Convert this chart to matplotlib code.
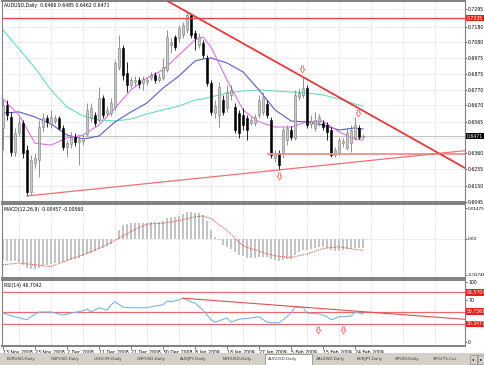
import numpy as np
import matplotlib.pyplot as plt
import matplotlib.transforms as mtransforms
from matplotlib.patches import Rectangle
from matplotlib.path import Path

plt.rcParams['font.family'] = ['DejaVu Sans']

# ---------------- data ----------------
opens = [
    .6524, .6673, .6595, .6368, .6492, .6556, .6381, .6109, .6297, .6316,
    .6530, .6589, .6550, .6569, .6589, .6524, .6401, .6420, .6466, .6433,
    .6440, .6485, .6589, .6608, .6576, .6718, .6621, .6621, .6660, .6919,
    .7042, .6880, .6802, .6822, .6835, .6815, .6822, .6848, .6867, .6835,
    .6848, .6900, .7062, .7114, .7107, .7126, .7159, .7256, .7139, .7062,
    .7075, .6978, .6815, .6621, .6608, .6705, .6653, .6738, .6660, .6621,
    .6608, .6589, .6556, .6556, .6608, .6628, .6679, .6576, .6329, .6362,
    .6362, .6446, .6511, .6459, .6725, .6738, .6783, .6550, .6524, .6563,
    .6556, .6543, .6511, .6349, .6362, .6427, .6394, .6427, .6459, .6524,
    .6466]
highs = [
    .6705, .6705, .6628, .6524, .6595, .6576, .6414, .6349, .6362, .6576,
    .6621, .6608, .6641, .6608, .6600, .6543, .6446, .6498, .6492, .6472,
    .6479, .6686, .6686, .6628, .6790, .6738, .6666, .6718, .6965, .7126,
    .7062, .6952, .6854, .6861, .6854, .6861, .6854, .6887, .6887, .6880,
    .6978, .7159, .7107, .7126, .7191, .7211, .7276, .7269, .7159, .7139,
    .7094, .6997, .6835, .6705, .6822, .6738, .6802, .6802, .6686, .6641,
    .6653, .6608, .6595, .6615, .6738, .6757, .6705, .6595, .6381, .6381,
    .6530, .6543, .6537, .6770, .6783, .6854, .6802, .6608, .6628, .6615,
    .6576, .6563, .6530, .6401, .6466, .6459, .6524, .6543, .6595, .6543,
    .6485]
lows = [
    .6381, .6576, .6342, .6342, .6472, .6329, .6083, .6096, .6265, .6205,
    .6498, .6530, .6524, .6550, .6511, .6381, .6336, .6394, .6407, .6284,
    .6414, .6472, .6563, .6537, .6563, .6589, .6602, .6602, .6641, .6900,
    .6835, .6757, .6783, .6796, .6783, .6770, .6802, .6835, .6815, .6822,
    .6835, .6887, .7010, .7029, .7081, .7107, .7139, .7107, .7029, .7042,
    .6978, .6796, .6608, .6589, .6530, .6608, .6628, .6705, .6492, .6459,
    .6511, .6446, .6543, .6537, .6589, .6608, .6589, .6329, .6303, .6252,
    .6329, .6414, .6446, .6446, .6705, .6718, .6524, .6524, .6505, .6537,
    .6511, .6446, .6336, .6336, .6349, .6401, .6381, .6368, .6446, .6453,
    .6462]
closes = [
    .6673, .6608, .6368, .6492, .6556, .6362, .6109, .6316, .6329, .6530,
    .6589, .6563, .6595, .6589, .6524, .6401, .6427, .6466, .6433, .6446,
    .6459, .6641, .6653, .6556, .6718, .6608, .6641, .6686, .6945, .7042,
    .6867, .6802, .6835, .6835, .6809, .6841, .6835, .6867, .6835, .6854,
    .6919, .7114, .7081, .7049, .7172, .7191, .7256, .7126, .7107, .7114,
    .6997, .6815, .6628, .6666, .6790, .6628, .6757, .6770, .6511, .6492,
    .6543, .6511, .6576, .6595, .6705, .6725, .6608, .6349, .6362, .6284,
    .6511, .6524, .6466, .6738, .6751, .6783, .6543, .6569, .6576, .6595,
    .6530, .6498, .6349, .6381, .6446, .6440, .6492, .6511, .6543, .6466,
    .6471]

ma_idx = [0, 4, 8, 12, 16, 20, 24, 28, 32, 36, 40, 44, 48, 50, 52, 56, 60,
          64, 68, 72, 76, 80, 84, 88, 90]
ma_fast = [.6712, .6608, .6425, .6413, .6459, .6478, .6543, .6653, .6770,
           .6848, .6900, .6997, .7094, .7114, .7049, .6835, .6641, .6563,
           .6530, .6530, .6563, .6569, .6498, .6452, .6446]
ma_mid = [.6621, .6628, .6595, .6550, .6478, .6452, .6472, .6563, .6628,
          .6686, .6783, .6861, .6958, .6971, .6978, .6945, .6887, .6770,
          .6641, .6569, .6563, .6543, .6511, .6524, .6517]
ma_slow = [.7159, .7036, .6913, .6770, .6660, .6602, .6576, .6569, .6582,
           .6615, .6641, .6666, .6705, .6712, .6725, .6751, .6764, .6770,
           .6764, .6757, .6751, .6738, .6712, .6679, .6666]

macd_hist = [
    -.0104, -.0106, -.0108, -.0110, -.0112, -.0125, -.0140, -.0146, -.0148, -.0140,
    -.0132, -.0128, -.0124, -.0120, -.0116, -.0114, -.0110, -.0104, -.0098, -.0092,
    -.0086, -.0076, -.0068, -.0062, -.0052, -.0046, -.0038, -.0026, -.0004, .0040,
    .0065, .0072, .0074, .0075, .0076, .0076, .0077, .0078, .0078, .0079,
    .0085, .0098, .0102, .0104, .0110, .0118, .0126, .0126, .0124, .0122,
    .0112, .0085, .0040, .0010, -.0005, -.0030, -.0040, -.0048, -.0065, -.0078,
    -.0086, -.0092, -.0094, -.0094, -.0090, -.0088, -.0090, -.0100, -.0104, -.0108,
    -.0104, -.0098, -.0096, -.0080, -.0066, -.0054, -.0054, -.0050, -.0046, -.0042,
    -.0042, -.0044, -.0056, -.0060, -.0058, -.0056, -.0052, -.0048, -.0044, -.0046,
    -.00457]
macd_signal = [-.0126, -.0118, -.0126, -.0135, -.0105, -.0078, -.0048, -.0009,
               .0035, .0070, .0074, .0087, .0105, .0109, .0096, .0040, -.0035,
               -.0061, -.0083, -.0091, -.0074, -.0048, -.0039, -.0052, -.0056]

rsi_idx = [0, 2, 3, 6, 7, 9, 12, 15, 17, 20, 21, 22, 24, 26, 27, 28, 30, 32,
           36, 38, 40, 41, 42, 44, 45, 47, 48, 50, 52, 53, 56, 57, 59, 62, 64,
           66, 67, 69, 71, 72, 73, 75, 76, 79, 81, 82, 84, 87, 88, 90]
rsi_vals = [48, 44, 42, 37, 42, 50, 50, 45, 48, 52, 55, 50, 57, 53, 62, 67, 58,
            57, 57, 60, 62, 68, 67, 70, 73, 67, 65, 53, 37, 33, 40, 33, 38, 40,
            42, 33, 32, 32, 42, 48, 58, 58, 48, 47, 42, 37, 42, 43, 50, 46.7042]
rsi_levels = [82.5707, 50.7361, 30.3471]

# arrow objects placed on the chart
arrow_idx = [74.8, 88.7, 69]
arrow_price = [0.6905, 0.6618, 0.6212]
rsi_arrow_idx = [78.8, 85]
rsi_arrow_val = [20, 20]

price_ticks = [0.6045, 0.6150, 0.6255, 0.6360, 0.6460, 0.6565, 0.6670, 0.6770,
               0.6875, 0.6975, 0.7080, 0.7180, 0.7295]
resist_level = 0.7235
support_level = 0.6355
last_price = 0.6471
date_labels = ['13 Nov 2008', '23 Nov 2008', '2 Dec 2008', '11 Dec 2008',
               '21 Dec 2008', '30 Dec 2008', '8 Jan 2009', '18 Jan 2009',
               '27 Jan 2009', '5 Feb 2009', '15 Feb 2009', '24 Feb 2009']
tab_names = ['EURUSD,Daily', 'GBPUSD,Daily', 'USDCHF,Daily', 'GBPUSD,Daily',
             'AUDJPY,Daily', 'NZDUSD,Daily', 'AUDUSD,Daily', 'XAUUSD,Daily',
             'EURJPY,Daily', 'SP500,Daily', 'SPX275,Cur']

# ---------------- layout ----------------
W, H = 485, 365
FS = 3.3
XMAX = 115.5

# hollow down arrow marker (MT4 style)
ARROW = Path([(-0.28, 1.0), (0.28, 1.0), (0.28, 0.15), (0.7, 0.15), (0.0, -1.0),
              (-0.7, 0.15), (-0.28, 0.15), (-0.28, 1.0)])


def px_rect(x0, y0, x1, y1):
    return [x0 / W, 1 - y1 / H, (x1 - x0) / W, (y1 - y0) / H]


fig = plt.figure(figsize=(W / 100, H / 100), dpi=100)
fig.patch.set_facecolor('white')

ax_p = fig.add_axes(px_rect(2, 1, 465, 202))
ax_m = fig.add_axes(px_rect(2, 204, 465, 278))
ax_r = fig.add_axes(px_rect(2, 280, 465, 346))

for ax in (ax_p, ax_m, ax_r):
    ax.set_xlim(-0.25, XMAX)
    ax.yaxis.tick_right()
    ax.tick_params(axis='y', labelsize=FS, length=1.5, width=0.4, pad=0.8)
    for s in ax.spines.values():
        s.set_color('#808080')
        s.set_linewidth(0.8)
    ax.spines['top'].set_linewidth(1.4)
    ax.spines['bottom'].set_linewidth(1.4)
    for g in range(4, 116, 8):
        ax.axvline(g, color='#c4c4c4', ls=(0, (1, 1.5)), lw=0.5, zorder=0)

ax_p.set_xticks([])
ax_m.set_xticks([])


def label_box(ax, y, txt, fc):
    tr = mtransforms.blended_transform_factory(ax.transAxes, ax.transData)
    ax.text(1.004, y, txt, transform=tr, fontsize=FS, color='white',
            va='center', ha='left', clip_on=False,
            bbox=dict(boxstyle='square,pad=0.15', fc=fc, ec='none'))


def ray(ax, p0, p1, **kw):
    slope = (p1[1] - p0[1]) / (p1[0] - p0[0])
    ax.plot([p0[0], XMAX], [p0[1], p0[1] + slope * (XMAX - p0[0])], **kw)


# ---------------- price window ----------------
o = np.array(opens); h = np.array(highs); l = np.array(lows); c = np.array(closes)
x = np.arange(len(c))
up = c >= o

ax_p.set_ylim(0.6044, 0.7347)
ax_p.set_yticks(price_ticks)
# the 0.6460 label sits under the black last-price box
ax_p.set_yticklabels(['' if abs(t - last_price) < 0.002 else f'{t:.4f}'
                      for t in price_ticks])
for t in price_ticks:
    ax_p.axhline(t, color='#c4c4c4', ls=(0, (1, 1.5)), lw=0.5, zorder=0)

ax_p.axhline(last_price, color='#b8b8b8', lw=0.6, zorder=1)

ax_p.plot(ma_idx, ma_slow, color='#66e0b4', lw=0.8, zorder=2)
ax_p.plot(ma_idx, ma_mid, color='#5a5ad2', lw=0.8, zorder=2)
ax_p.plot(ma_idx, ma_fast, color='#e070e0', lw=0.8, zorder=2)

ax_p.vlines(x[up], l[up], h[up], color='#808080', lw=0.6, zorder=3)
ax_p.vlines(x[~up], l[~up], h[~up], color='black', lw=0.6, zorder=3)
ax_p.bar(x[up], (c - o)[up], bottom=o[up], width=0.7, color='#c8c8c8',
         edgecolor='#7a7a7a', linewidth=0.4, zorder=4)
ax_p.bar(x[~up], (c - o)[~up], bottom=o[~up], width=0.7, color='black',
         edgecolor='black', linewidth=0.4, zorder=4)

ax_p.axhline(resist_level, color='#e84848', lw=1.0, zorder=5)
ax_p.hlines(support_level, 66, XMAX, color='#f09090', lw=1.3, zorder=5)
ax_p.axline((46, highs[46]), (75, highs[75]), color='#e03c3c', lw=1.3, zorder=5)
ray(ax_p, (6, lows[6]), (69, lows[69]), color='#f07070', lw=0.9, zorder=5)

ax_p.plot(arrow_idx, arrow_price, ls='none', marker=ARROW, markersize=5,
          markerfacecolor='white', markeredgecolor='#ff6a6a',
          markeredgewidth=0.6, zorder=6)

ax_p.text(0.005, 0.99, 'AUDUSD,Daily  0.6466 0.6485 0.6462 0.6471',
          transform=ax_p.transAxes, fontsize=FS, va='top', ha='left')
label_box(ax_p, resist_level, f'{resist_level:.4f}', '#e8201c')
label_box(ax_p, last_price, f'{last_price:.4f}', 'black')

# ---------------- MACD window ----------------
ax_m.set_ylim(-0.0190, 0.0167)
ax_m.set_yticks([-0.01748, 0.0, 0.01475])
ax_m.set_yticklabels(['-0.01748', '0.00', '0.01475'], fontsize=3.0)
ax_m.axhline(0, color='#c4c4c4', ls=(0, (1, 1.5)), lw=0.5, zorder=0)
ax_m.bar(x, macd_hist, width=0.3, color='#c4c4c4', zorder=2)
ax_m.plot(ma_idx, macd_signal, color='#e04040', ls=(0, (1, 1)), lw=0.7, zorder=3)
ax_m.text(0.005, 0.96, 'MACD(12,26,9) -0.00457 -0.00560',
          transform=ax_m.transAxes, fontsize=FS, va='top', ha='left')

# ---------------- RSI window ----------------
ax_r.set_ylim(-6.7, 103.3)
ax_r.set_yticks([0, 70, 100])
ax_r.set_yticklabels(['0', '70', '100'])
for lv in rsi_levels:
    ax_r.axhline(lv, color='#e86a6a', lw=0.9, zorder=2)
    label_box(ax_r, lv, f'{lv:.4f}', '#e8201c')
ax_r.plot(rsi_idx, rsi_vals, color='#7eb2e6', lw=0.8, zorder=3)
ray(ax_r, (45, 73), (75, 58), color='#e05050', lw=0.8, zorder=4)
ax_r.plot(rsi_arrow_idx, rsi_arrow_val, ls='none', marker=ARROW, markersize=5,
          markerfacecolor='white', markeredgecolor='#ff6a6a',
          markeredgewidth=0.6, zorder=6)
ax_r.text(0.005, 0.96, 'RSI(14) 46.7042', transform=ax_r.transAxes,
          fontsize=FS, va='top', ha='left')

ax_r.set_xticks(range(0, 8 * len(date_labels), 8))
ax_r.set_xticklabels(date_labels, ha='left')
ax_r.tick_params(axis='x', labelsize=FS, length=2, width=0.4, pad=0.8)

# ---------------- tab bar ----------------
TFS = 3.0
fig.add_artist(Rectangle((0, 0), 1, 12 / H, transform=fig.transFigure,
                         facecolor='#d4d0c8', edgecolor='none'))
tab_x = [4, 48, 91, 134, 177, 220, 265, 313, 354, 392, 430]
for i, name in enumerate(tab_names):
    if name == 'AUDUSD,Daily':
        fig.add_artist(Rectangle((265 / W, 0.5 / H), 47 / W, 11 / H,
                                 transform=fig.transFigure, facecolor='white',
                                 edgecolor='#808080', lw=0.5))
    elif i + 1 < len(tab_x) and tab_names[i + 1] != 'AUDUSD,Daily':
        fig.add_artist(Rectangle(((tab_x[i + 1] - 1) / W, 2 / H), 0.4 / W, 8 / H,
                                 transform=fig.transFigure, facecolor='#909090',
                                 edgecolor='none'))
    fig.text((tab_x[i] + 3) / W, 6 / H, name, fontsize=TFS, color='#404040',
             ha='left', va='center')
for bx, arrow in [(470, '\u25c2'), (478, '\u25b8')]:
    fig.add_artist(Rectangle((bx / W, 1.5 / H), 7 / W, 9 / H,
                             transform=fig.transFigure, facecolor='#d4d0c8',
                             edgecolor='#808080', lw=0.4))
    fig.text((bx + 3.5) / W, 6 / H, arrow, fontsize=TFS, ha='center', va='center')

fig.savefig('out.png', dpi=100)
